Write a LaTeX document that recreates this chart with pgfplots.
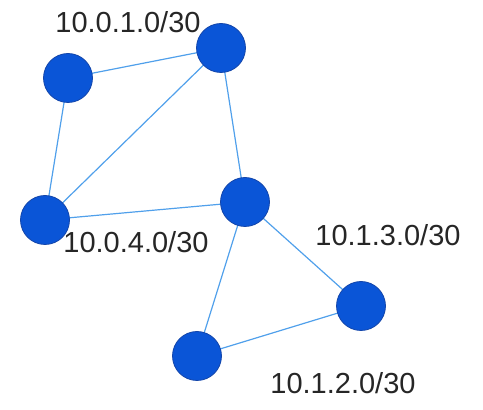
\documentclass[border=0pt]{standalone}
\usepackage{pgfplots}
\pgfplotsset{compat=1.18}
\usepackage{fontspec}
\setmainfont{Liberation Sans}
\definecolor{nodeblue}{RGB}{10,85,215}
\definecolor{nodeedge}{RGB}{20,70,170}
\definecolor{linkblue}{RGB}{80,160,235}
\begin{document}
\begin{tikzpicture}
\begin{axis}[scale only axis, width=483pt, height=410pt, xmin=0, xmax=483, ymin=0, ymax=410,
  hide axis, clip=false]
\path (axis cs:0,0) rectangle (axis cs:483,410);
% edges (y = 410 - pixel y)
\addplot[linkblue, line width=1.2pt] coordinates {(68,332) (221,362)};
\addplot[linkblue, line width=1.2pt] coordinates {(68,332) (45,190)};
\addplot[linkblue, line width=1.2pt] coordinates {(45,190) (221,362)};
\addplot[linkblue, line width=1.2pt] coordinates {(221,362) (245,208)};
\addplot[linkblue, line width=1.2pt] coordinates {(45,190) (245,208)};
\addplot[linkblue, line width=1.2pt] coordinates {(245,208) (197,54)};
\addplot[linkblue, line width=1.2pt] coordinates {(245,208) (361,104)};
\addplot[linkblue, line width=1.2pt] coordinates {(197,54) (361,104)};
% nodes
\addplot[only marks, mark=*, mark size=24.5pt, mark options={fill=nodeblue, draw=nodeedge, line width=0.8pt}]
 coordinates {(68,332) (221,362) (45,190) (245,208) (361,104) (197,54)};
\node[font=\fontsize{29}{30}\selectfont, text=black!85] at (axis cs:128,388) {10.0.1.0/30};
\node[font=\fontsize{29}{30}\selectfont, text=black!85] at (axis cs:136,168) {10.0.4.0/30};
\node[font=\fontsize{29}{30}\selectfont, text=black!85] at (axis cs:388,175) {10.1.3.0/30};
\node[font=\fontsize{29}{30}\selectfont, text=black!85] at (axis cs:343,27) {10.1.2.0/30};
\end{axis}
\end{tikzpicture}
\end{document}
